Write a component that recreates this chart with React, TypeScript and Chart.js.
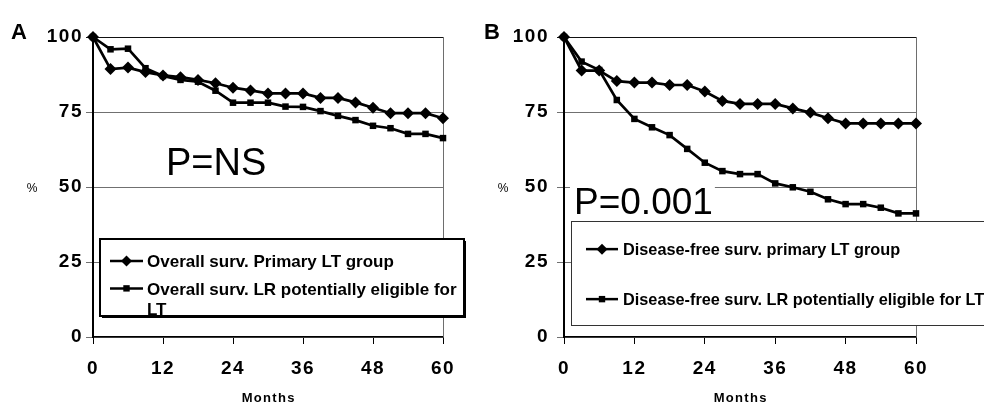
import React, { useEffect, useRef } from "react";
import { Chart, registerables } from "chart.js";

Chart.register(...registerables);

// ---------- data ----------
const months = [0, 3, 6, 9, 12, 15, 18, 21, 24, 27, 30, 33, 36, 39, 42, 45, 48, 51, 54, 57, 60];
const xTicks = [0, 12, 24, 36, 48, 60];
const yTicks = [0, 25, 50, 75, 100];

// Panel A: overall survival
const overallPrimaryLT = [100, 89.3, 89.8, 88.3, 87.2, 86.6, 85.7, 84.6, 83.1, 82.2, 81.2, 81.2, 81.2, 79.7, 79.7, 78.2, 76.4, 74.6, 74.6, 74.6, 72.9];
const overallLR = [100, 95.9, 96.1, 89.6, 87.0, 85.7, 85.1, 82.1, 78.1, 78.1, 78.1, 76.8, 76.7, 75.3, 73.7, 72.3, 70.4, 69.6, 67.7, 67.7, 66.3];

// Panel B: disease-free survival
const dfsPrimaryLT = [100, 88.8, 88.8, 85.3, 84.8, 84.8, 84.0, 84.0, 81.8, 78.7, 77.7, 77.7, 77.7, 76.2, 74.8, 72.9, 71.2, 71.2, 71.2, 71.2, 71.2];
const dfsLR = [100, 91.8, 89.0, 79.0, 72.7, 69.9, 67.3, 62.7, 58.1, 55.3, 54.3, 54.3, 51.2, 49.9, 48.4, 45.9, 44.3, 44.3, 43.1, 41.2, 41.2];

const labelsA = ["Overall surv. Primary LT group", "Overall surv. LR potentially eligible for LT"];
const legendLinesA = [["Overall surv. Primary LT group"], ["Overall surv. LR potentially eligible for", "LT"]];
const labelsB = ["Disease-free surv. primary LT group", "Disease-free surv. LR potentially eligible for LT"];
const legendLinesB = [["Disease-free surv. primary LT group"], ["Disease-free surv. LR potentially eligible for LT"]];

const xTitle = "Months";
const yTitle = "%";

const FONT = "'Liberation Sans', Arial, Helvetica, sans-serif";

type LegendStyle = {
  box: [number, number, number, number];
  heavy: boolean;
  lineX: [number, number];
  textX: number;
  baselines: number[][];
  fontSize: number;
};

type PanelProps = {
  left: number;
  width: number;
  yAxisWidth: number;
  yTickPad: number;
  padRight: number;
  letter: string;
  letterX: number;
  pctX: number;
  pText: string;
  pX: number;
  pBaseline: number;
  pSize: number;
  pWhiteBox: boolean;
  series: number[][];
  labels: string[];
  legendLines: string[][];
  legend: LegendStyle;
};

function drawMarker(ctx: CanvasRenderingContext2D, kind: string, x: number, y: number) {
  ctx.beginPath();
  if (kind === "rectRot") {
    const r = 5.5;
    ctx.moveTo(x - r, y);
    ctx.lineTo(x, y - r);
    ctx.lineTo(x + r, y);
    ctx.lineTo(x, y + r);
    ctx.closePath();
  } else {
    const s = 3.2;
    ctx.rect(x - s, y - s, 2 * s, 2 * s);
  }
  ctx.fill();
}

function Panel(p: PanelProps) {
  const ref = useRef<HTMLCanvasElement | null>(null);
  useEffect(() => {
    if (!ref.current) return;
    const kinds = ["rectRot", "rect"];
    const decor = {
      id: "decor" + p.letter,
      beforeDraw(chart: any) {
        (chart.ctx as any).letterSpacing = "1.5px";
      },
      beforeDatasetsDraw(chart: any) {
        const { ctx, chartArea: a } = chart;
        (ctx as any).letterSpacing = "0px";
        ctx.save();
        ctx.strokeStyle = "#6e6e6e";
        ctx.lineWidth = 1;
        ctx.beginPath();
        ctx.moveTo(Math.round(a.right) + 0.5, a.top);
        ctx.lineTo(Math.round(a.right) + 0.5, a.bottom);
        ctx.stroke();
        ctx.restore();
      },
      afterDraw(chart: any) {
        const { ctx, chartArea: a } = chart;
        ctx.save();
        (ctx as any).letterSpacing = "0px";
        ctx.fillStyle = "#000";
        // panel letter
        ctx.font = `bold 22px ${FONT}`;
        ctx.textAlign = "left";
        ctx.textBaseline = "alphabetic";
        ctx.fillText(p.letter, p.letterX, 38.5);
        // % title
        ctx.font = `12px ${FONT}`;
        ctx.textAlign = "center";
        ctx.fillText(yTitle, p.pctX, 192);
        // Months title
        ctx.font = `bold 13px ${FONT}`;
        (ctx as any).letterSpacing = "1.3px";
        ctx.fillText(xTitle, (a.left + a.right) / 2 + 0.7, 401.5);
        (ctx as any).letterSpacing = "0px";
        // P value text
        ctx.font = `${p.pSize}px ${FONT}`;
        ctx.textAlign = "left";
        if (p.pWhiteBox) {
          const w = ctx.measureText(p.pText).width;
          ctx.fillStyle = "#fff";
          ctx.fillRect(p.pX - 4, p.pBaseline - p.pSize * 0.78, w + 6, p.pSize * 0.86);
          ctx.fillStyle = "#000";
        }
        ctx.fillText(p.pText, p.pX, p.pBaseline);

        // legend
        const L = p.legend;
        const [bx, by, bw, bh] = L.box;
        if (L.heavy) {
          ctx.fillStyle = "#000";
          ctx.fillRect(bx + 2, by + 2, bw, bh);
          ctx.fillStyle = "#fff";
          ctx.fillRect(bx, by, bw, bh);
          ctx.strokeStyle = "#000";
          ctx.lineWidth = 2;
          ctx.strokeRect(bx, by, bw, bh);
        } else {
          ctx.fillStyle = "#fff";
          ctx.fillRect(bx, by, bw, bh);
          ctx.strokeStyle = "#333";
          ctx.lineWidth = 1;
          ctx.strokeRect(bx + 0.5, by + 0.5, bw, bh);
        }
        ctx.fillStyle = "#000";
        ctx.font = `bold ${L.fontSize}px ${FONT}`;
        p.legendLines.forEach((lines, i) => {
          const bl = L.baselines[i];
          const cy = bl[0] - L.fontSize * 0.36;
          ctx.strokeStyle = "#000";
          ctx.lineWidth = 2.5;
          ctx.beginPath();
          ctx.moveTo(L.lineX[0], cy);
          ctx.lineTo(L.lineX[1], cy);
          ctx.stroke();
          drawMarker(ctx, kinds[i], (L.lineX[0] + L.lineX[1]) / 2, cy);
          lines.forEach((t, j) => ctx.fillText(t, L.textX, bl[j]));
        });
        ctx.restore();
      },
    };

    const tickFont = { family: FONT, size: 19, weight: "bold" as const };
    const chart = new Chart(ref.current, {
      type: "line",
      data: {
        labels: months,
        datasets: p.series.map((vals, i) => ({
          label: p.labels[i],
          data: months.map((m, k) => ({ x: m, y: vals[k] })),
          borderColor: "#000",
          backgroundColor: "#000",
          borderWidth: 2.7,
          pointStyle: kinds[i] as any,
          pointRadius: i === 0 ? 6 : 4.6,
          pointBorderWidth: 0,
          pointBackgroundColor: "#000",
          tension: 0,
          clip: false as any,
        })),
      },
      options: {
        animation: false,
        responsive: false,
        events: [],
        layout: { padding: { top: 37, right: p.padRight, left: 0, bottom: 0 } },
        plugins: { legend: { display: false }, tooltip: { enabled: false }, title: { display: false } },
        scales: {
          x: {
            type: "linear",
            min: 0,
            max: 60,
            afterFit: (s: any) => {
              s.height = 67;
            },
            afterBuildTicks: (s: any) => {
              s.ticks = xTicks.map((v) => ({ value: v }));
            },
            ticks: { font: tickFont, color: "#000", padding: 13, maxRotation: 0 },
            grid: { drawOnChartArea: false, drawTicks: true, tickLength: 7, color: "#000", lineWidth: 1 },
            border: { display: true, color: "#000", width: 1.5 },
          },
          y: {
            type: "linear",
            min: 0,
            max: 100,
            afterFit: (s: any) => {
              s.width = p.yAxisWidth;
            },
            afterBuildTicks: (s: any) => {
              s.ticks = yTicks.map((v) => ({ value: v }));
            },
            ticks: { font: tickFont, color: "#000", padding: p.yTickPad },
            grid: {
              drawTicks: true,
              tickLength: 7,
              color: (c: any) => (c.tick && c.tick.value === 100 ? "#111" : "#707070"),
              lineWidth: 1,
            },
            border: { display: true, color: "#000", width: 2 },
          },
        },
      },
      plugins: [decor],
    });
    return () => chart.destroy();
  }, []);
  return (
    <canvas
      ref={ref}
      width={p.width}
      height={404}
      style={{ position: "absolute", left: p.left, top: 0, width: p.width, height: 404 }}
    />
  );
}

export default function App() {
  useEffect(() => {
    document.body.style.margin = "0";
  }, []);
  return (
    <div style={{ position: "relative", width: 984, height: 404, background: "#fff", overflow: "hidden" }}>
      <Panel
        left={0}
        width={480}
        yAxisWidth={93}
        yTickPad={3}
        padRight={37}
        letter="A"
        letterX={11}
        pctX={32}
        pText="P=NS"
        pX={166}
        pBaseline={175}
        pSize={38}
        pWhiteBox={false}
        series={[overallPrimaryLT, overallLR]}
        labels={labelsA}
        legendLines={legendLinesA}
        legend={{
          box: [100, 239, 364, 77],
          heavy: true,
          lineX: [110, 143],
          textX: 147,
          baselines: [[267], [294.5, 315]],
          fontSize: 17,
        }}
      />
      <Panel
        left={480}
        width={504}
        yAxisWidth={84}
        yTickPad={8}
        padRight={68}
        letter="B"
        letterX={4}
        pctX={23}
        pText="P=0.001"
        pX={94}
        pBaseline={214}
        pSize={37}
        pWhiteBox={true}
        series={[dfsPrimaryLT, dfsLR]}
        labels={labelsB}
        legendLines={legendLinesB}
        legend={{
          box: [91, 221, 430, 104],
          heavy: false,
          lineX: [106, 138],
          textX: 143,
          baselines: [[255], [305]],
          fontSize: 16.3,
        }}
      />
    </div>
  );
}
